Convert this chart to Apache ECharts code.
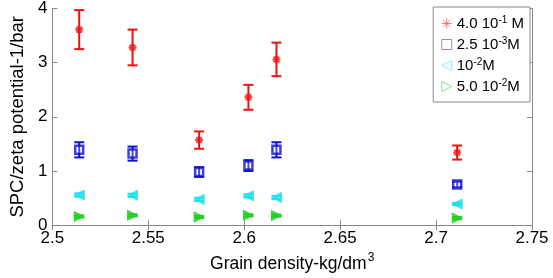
<!DOCTYPE html>
<html>
<head>
<meta charset="utf-8">
<script src="https://cdn.jsdelivr.net/npm/echarts@6/dist/echarts.min.js"></script>
<style>
html, body { margin: 0; padding: 0; background: #fff; }
#main { width: 553px; height: 278px; }
</style>
</head>
<body>
<div id="main"></div>
<script>
// grain density of the six samples
var density = [2.514, 2.5418, 2.5765, 2.6022, 2.6168, 2.711];

// SPC/zeta values and error (+/-) for each concentration
var red = [3.61, 3.28, 1.57, 2.36, 3.06, 1.34];
var redErr = [0.36, 0.33, 0.16, 0.23, 0.31, 0.13];
var blue = [1.39, 1.32, 0.98, 1.10, 1.39, 0.75];
var blueErr = [0.14, 0.13, 0.09, 0.10, 0.14, 0.05];
var cyan = [0.555, 0.55, 0.475, 0.54, 0.51, 0.39];
var cyanErr = [0.03, 0.03, 0.03, 0.03, 0.03, 0.02];
var green = [0.16, 0.18, 0.15, 0.18, 0.175, 0.13];
var greenErr = [0.02, 0.02, 0.02, 0.02, 0.02, 0.02];

var xTicks = ['2.5', '2.55', '2.6', '2.65', '2.7', '2.75'];
var yTicks = ['0', '1', '2', '3', '4'];

var names = ['4.0 10-1 M', '2.5 10-3M', '10-2M', '5.0 10-2M'];
var colors = ['#f01010', '#1010d0', '#20e0f0', '#20d020'];
var legendColors = ['#f06060', '#7070e0', '#70e8f0', '#70d870'];

var chart = echarts.init(document.getElementById('main'));

function pairs(vals) {
    return vals.map(function (v, i) { return [density[i], v]; });
}
function errs(vals, e) {
    return vals.map(function (v, i) { return [density[i], v - e[i], v + e[i]]; });
}

function errorSeries(vals, e, color) {
    return {
        type: 'custom',
        data: errs(vals, e),
        z: 2,
        silent: true,
        renderItem: function (params, api) {
            var x = api.value(0);
            var lo = api.coord([x, api.value(1)]);
            var hi = api.coord([x, api.value(2)]);
            var w = 5;
            var st = { stroke: color, lineWidth: 2 };
            return {
                type: 'group',
                children: [
                    { type: 'line', shape: { x1: lo[0], y1: lo[1], x2: hi[0], y2: hi[1] }, style: st },
                    { type: 'line', shape: { x1: lo[0] - w, y1: lo[1], x2: lo[0] + w, y2: lo[1] }, style: st },
                    { type: 'line', shape: { x1: hi[0] - w, y1: hi[1], x2: hi[0] + w, y2: hi[1] }, style: st }
                ]
            };
        }
    };
}

var star = 'path://M0,-10L0,10M-10,0L10,0M-7,-7L7,7M-7,7L7,-7';
var square = 'path://M-10,-10L10,-10L10,10L-10,10Z';
var triLeft = 'path://M-10,0L10,-10L10,10Z';
var triRight = 'path://M10,0L-10,-10L-10,10Z';
var legendIcons = [star, square, triLeft, triRight];

var tickLabelFont = { fontFamily: 'Liberation Sans', fontSize: 17, color: '#000' };

chart.setOption({
    animation: false,
    grid: { left: 41, right: 21, top: 7, bottom: 49 },
    legend: {
        orient: 'vertical',
        right: 23,
        top: 7,
        itemGap: 5,
        itemWidth: 10,
        itemHeight: 10,
        padding: [8, 6, 8, 8],
        backgroundColor: '#fff',
        borderColor: '#888',
        borderWidth: 1,
        borderRadius: 0,
        data: names.map(function (n, i) {
            return {
                name: n,
                icon: legendIcons[i],
                itemStyle: { color: 'rgba(255,255,255,0)', borderColor: legendColors[i], borderWidth: 1 }
            };
        }),
        formatter: function (n) {
            if (n === names[0]) return '{a|4.0 10}{s|-1}{a| M}';
            if (n === names[1]) return '{a|2.5 10}{s|-3}{a|M}';
            if (n === names[2]) return '{a|10}{s|-2}{a|M}';
            return '{a|5.0 10}{s|-2}{a|M}';
        },
        textStyle: {
            rich: {
                a: { fontFamily: 'Liberation Sans', fontSize: 15, color: '#000', lineHeight: 17 },
                s: { fontFamily: 'Liberation Sans', fontSize: 10, color: '#000', verticalAlign: 'top', lineHeight: 17, padding: [0, 0, 6, 0] }
            }
        }
    },
    xAxis: [{
        type: 'value',
        min: 2.5,
        max: 2.75,
        interval: 0.05,
        name: '{a|Grain density-kg/dm}{s|3}',
        nameLocation: 'middle',
        nameGap: 24,
        nameTextStyle: {
            rich: {
                a: { fontFamily: 'Liberation Sans', fontSize: 17.5, color: '#000' },
                s: { fontFamily: 'Liberation Sans', fontSize: 12, color: '#000', verticalAlign: 'top', padding: [0, 0, 12, 1] }
            }
        },
        axisLine: { lineStyle: { color: '#888', width: 1 } },
        axisTick: { inside: true, length: 5, lineStyle: { color: '#888' } },
        axisLabel: Object.assign({ margin: 5, formatter: function (v) { return xTicks[Math.round((v - 2.5) / 0.05)]; } }, tickLabelFont),
        splitLine: { show: false }
    }, {
        type: 'value',
        position: 'top',
        min: 2.5,
        max: 2.75,
        interval: 0.05,
        axisLine: { lineStyle: { color: '#888', width: 1 } },
        axisTick: { inside: true, length: 5, lineStyle: { color: '#888' } },
        axisLabel: { show: false },
        splitLine: { show: false }
    }],
    yAxis: [{
        type: 'value',
        min: 0,
        max: 4,
        interval: 1,
        name: 'SPC/zeta potential-1/bar',
        nameLocation: 'middle',
        nameGap: 24,
        nameTextStyle: { fontFamily: 'Liberation Sans', fontSize: 18.5, color: '#000' },
        axisLine: { lineStyle: { color: '#888', width: 1 } },
        axisTick: { inside: true, length: 5, lineStyle: { color: '#888' } },
        axisLabel: Object.assign({ margin: 5, formatter: function (v) { return yTicks[v]; } }, tickLabelFont),
        splitLine: { show: false }
    }, {
        type: 'value',
        position: 'right',
        min: 0,
        max: 4,
        interval: 1,
        axisLine: { lineStyle: { color: '#888', width: 1 } },
        axisTick: { inside: true, length: 5, lineStyle: { color: '#888' } },
        axisLabel: { show: false },
        splitLine: { show: false }
    }],
    series: [
        errorSeries(red, redErr, colors[0]),
        errorSeries(blue, blueErr, colors[1]),
        errorSeries(cyan, cyanErr, colors[2]),
        errorSeries(green, greenErr, colors[3]),
        {
            name: names[0], type: 'scatter', data: pairs(red), z: 3,
            symbol: star, symbolSize: 8,
            itemStyle: { color: colors[0], borderColor: colors[0], borderWidth: 2 }
        },
        {
            name: names[1], type: 'scatter', data: pairs(blue), z: 3,
            symbol: 'rect', symbolSize: 8,
            itemStyle: { color: 'rgba(255,255,255,0.3)', borderColor: colors[1], borderWidth: 2.5 }
        },
        {
            name: names[2], type: 'scatter', data: pairs(cyan), z: 3,
            symbol: triLeft, symbolSize: 10,
            itemStyle: { color: colors[2], borderColor: colors[2], borderWidth: 1 }
        },
        {
            name: names[3], type: 'scatter', data: pairs(green), z: 3,
            symbol: triRight, symbolSize: 10,
            itemStyle: { color: colors[3], borderColor: colors[3], borderWidth: 1 }
        }
    ]
});
</script>
</body>
</html>
